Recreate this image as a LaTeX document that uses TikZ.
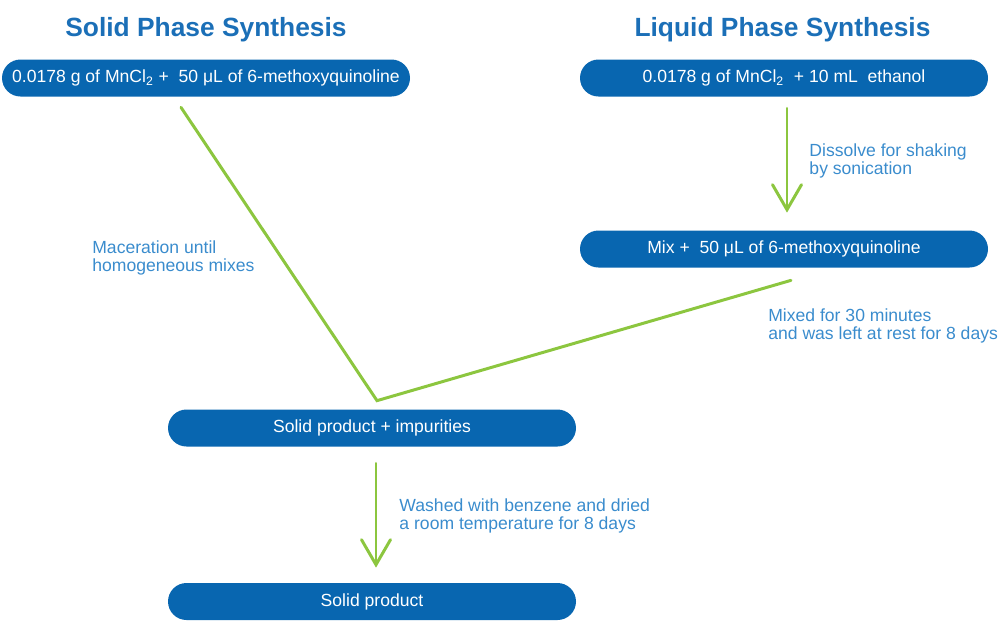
\documentclass[tikz,border=0pt]{standalone}
\usepackage{fontspec}
\setmainfont{Liberation Sans}
\usetikzlibrary{arrows.meta,positioning}

\definecolor{boxblue}{HTML}{0866B0}
\definecolor{headblue}{HTML}{1B6FB7}
\definecolor{noteblue}{HTML}{3A8CCD}
\definecolor{flowgreen}{HTML}{8CC63F}

\tikzset{
  heading/.style={font=\fontsize{15}{18}\selectfont\bfseries, text=headblue, anchor=base},
  stepbox/.style={fill=boxblue, text=white, rounded corners=0.37cm,
    minimum width=8.16cm, minimum height=0.74cm, inner sep=0pt,
    font=\fontsize{10}{12}\selectfont},
  note/.style={text=noteblue, align=left, inner sep=0pt,
    font=\fontsize{10}{10.3}\selectfont},
  flow/.style={draw=flowgreen, line width=1.7pt, line cap=round, line join=miter},
  chevron/.style={-{Straight Barb[length=0.5cm,width=0.58cm,line cap=round]}}
}

\begin{document}
\begin{tikzpicture}
  \useasboundingbox (0,0) rectangle (19.96,-12.4);

  % headings
  \node[heading] (solidhead) at (4.12,-0.73) {Solid Phase Synthesis};
  \node[heading] (liquidhead) at (15.65,-0.73) {Liquid Phase Synthesis};

  % steps
  \node[stepbox] (solidmix) at (4.12,-1.56) {0.0178 g of MnCl\textsubscript{2} +\ \ 50 μL of 6-methoxyquinoline};
  \node[stepbox] (liquidmix) at (15.68,-1.56) {0.0178 g of MnCl\textsubscript{2}\ \ + 10 mL\ \ ethanol};
  \node[stepbox] (mix) at (15.68,-4.98) {Mix +\ \ 50 μL of 6-methoxyquinoline};
  \node[stepbox] (impure) at (7.44,-8.56) {Solid product + impurities};
  \node[stepbox] (product) at (7.44,-12.03) {Solid product};

  % meeting point of both routes
  \coordinate (solidout) at ([xshift=-0.5cm,yshift=-0.21cm]solidmix.south);
  \coordinate (liquidout) at ([xshift=0.14cm,yshift=-0.25cm]mix.south);
  \coordinate (meet) at ([xshift=0.1cm,yshift=0.17cm]impure.north);

  \draw[flow] (solidout) -- (meet) -- (liquidout);

  \draw[flow,chevron] ([xshift=0.06cm,yshift=-0.23cm]liquidmix.south) --
    node[note, anchor=west, xshift=0.42cm] {Dissolve for shaking\\by sonication}
    ([xshift=0.06cm,yshift=0.35cm]mix.north);

  \draw[flow,chevron] ([xshift=0.08cm,yshift=-0.33cm]impure.south) --
    node[note, anchor=west, xshift=0.44cm] {Washed with benzene and dried\\a room temperature for 8 days}
    ([xshift=0.08cm,yshift=0.3cm]product.north);

  % notes
  \node[note, anchor=west] (macnote) at (1.84,-5.16) {Maceration until\\homogeneous mixes};
  \node[note, anchor=west] (mixnote) at (15.36,-6.52) {Mixed for 30 minutes\\and was left at rest for 8 days};
\end{tikzpicture}
\end{document}
